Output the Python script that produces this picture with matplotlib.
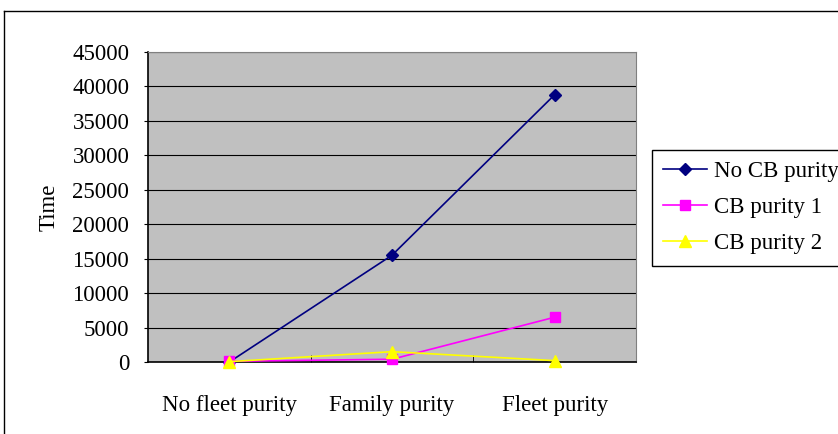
import matplotlib.pyplot as plt
from matplotlib.lines import Line2D

categories = ["No fleet purity", "Family purity", "Fleet purity"]
no_cb = [0, 15500, 38800]
cb1 = [100, 400, 6500]
cb2 = [50, 1500, 200]
series_names = ["No CB purity", "CB purity 1", "CB purity 2"]

plt.rcParams['font.family'] = ['Liberation Serif', 'DejaVu Serif']
FS = 16.5

fig = plt.figure(figsize=(8.38, 4.34), dpi=100)
W, H = 838, 434
ax = fig.add_axes([148 / W, 1 - 362 / H, (636 - 148) / W, (362 - 52) / H])
ax.set_facecolor("#C0C0C0")

x = list(range(len(categories)))
ax.plot(x, no_cb, color="#000080", marker="D", markersize=6, lw=1.2, label=series_names[0], clip_on=False, zorder=3)
ax.plot(x, cb1, color="#FF00FF", marker="s", markersize=7, lw=1.2, label=series_names[1], clip_on=False, zorder=3)
ax.plot(x, cb2, color="#FFFF00", marker="^", markersize=8, lw=1.2, label=series_names[2], clip_on=False, zorder=3)

ax.set_xlim(-0.5, 2.5)
ax.set_ylim(0, 45000)
ax.set_yticks(range(0, 45001, 5000))
ax.yaxis.grid(True, color="black", lw=0.8)
ax.set_axisbelow(True)
ax.set_xticks(x)
ax.set_xticklabels(categories, fontsize=FS)
ax.tick_params(axis="x", length=0, pad=23.5)
ax.set_xticks([0.5, 1.5], minor=True)
ax.tick_params(axis="x", which="minor", direction="in", length=5, color="black")
ax.tick_params(axis="y", labelsize=FS, direction="out", length=3, pad=10.5)
for s in ["top", "right"]:
    ax.spines[s].set_color("#808080")
for s in ["left", "bottom"]:
    ax.spines[s].set_color("black")
    ax.spines[s].set_linewidth(1.2)
ax.set_ylabel("Time", fontsize=FS, labelpad=9)

# outer chart frame (cropped at right/bottom)
fig.add_artist(Line2D([4 / W, 1], [1 - 11 / H, 1 - 11 / H], color="black", lw=1, transform=fig.transFigure))
fig.add_artist(Line2D([4 / W, 4 / W], [0, 1 - 11 / H], color="black", lw=1, transform=fig.transFigure))

leg = fig.legend(loc="upper left", bbox_to_anchor=(652 / W, 1 - 150 / H), fontsize=FS,
                 frameon=True, fancybox=False, edgecolor="black", framealpha=1,
                 handlelength=1.9, handletextpad=0.3, borderpad=0.5, labelspacing=0.65,
                 borderaxespad=0)
leg.get_frame().set_linewidth(1)

fig.savefig("out.png", dpi=100)
